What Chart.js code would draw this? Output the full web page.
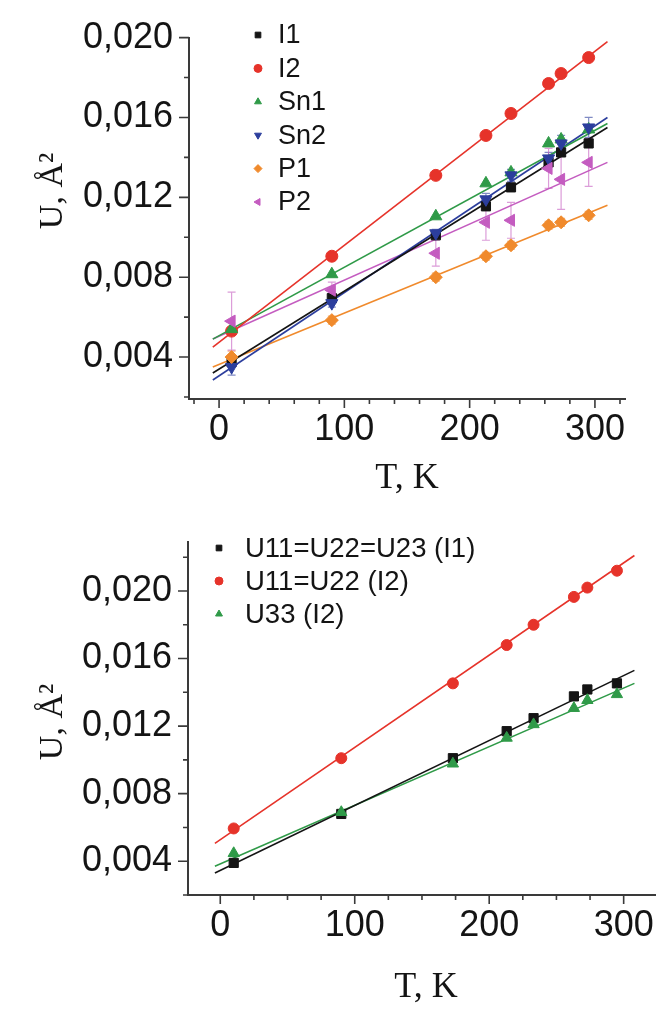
<!DOCTYPE html>
<html>
<head>
<meta charset="utf-8">
<script src="https://cdn.jsdelivr.net/npm/chart.js"></script>
<style>
  html, body { margin: 0; padding: 0; background: #fff; overflow: hidden; }
  #top { position: absolute; left: 0; top: 0; }
  #bottom { position: absolute; left: 0; top: 500px; }
</style>
</head>
<body>
<canvas id="top" width="656" height="500"></canvas>
<canvas id="bottom" width="700" height="511"></canvas>
<script>
// temperatures of the measurements, K
const temps = [10, 90, 173, 213, 233, 263, 273, 295];

// upper panel: mean U per compound
const uI1  = [0.00375, 0.00695, 0.0101, 0.01155, 0.0125, 0.01375, 0.01425, 0.0147];
const uI2  = [0.0053, 0.00905, 0.0131, 0.0151, 0.0162, 0.0177, 0.0182, 0.0190];
const uSn1 = [0.0054, 0.00815, 0.01105, 0.0127, 0.01325, 0.0147, 0.0149, 0.0154];
const uSn2 = [0.0035, 0.0067, 0.0102, 0.0119, 0.0131, 0.01395, 0.0147, 0.0155];
const uP1  = [0.0040, 0.00585, 0.0080, 0.00905, 0.0096, 0.0106, 0.01075, 0.0111];
const uP2  = [0.0058, 0.00735, 0.0092, 0.01075, 0.01085, 0.01345, 0.0129, 0.01375];
const errSn2 = [0.0004, 0.0002, 0.0002, 0.0003, 0.0003, 0.0003, 0.0004, 0.0005];
const errP1  = [0.0003, 0.0002, 0.0002, 0.0002, 0.0002, 0.0002, 0.0002, 0.0002];
const errP2  = [0.00145, 0.0004, 0.00065, 0.0009, 0.0009, 0.001, 0.0015, 0.0012];

// linear fits, value at the two ends
const fitT = [-5, 310];
const fitI1  = [0.0032, 0.0155];
const fitI2  = [0.0045, 0.0198];
const fitSn1 = [0.0049, 0.0157];
const fitSn2 = [0.00285, 0.0160];
const fitP1  = [0.0035, 0.0116];
const fitP2  = [0.0049, 0.01375];

// lower panel: anisotropic components
const uAniI1  = [0.0039, 0.0068, 0.0101, 0.0117, 0.01247, 0.01376, 0.01417, 0.01453];
const uAniI2  = [0.00594, 0.0101, 0.01453, 0.0168, 0.0180, 0.01965, 0.0202, 0.0212];
const u33I2   = [0.00447, 0.0069, 0.00977, 0.0113, 0.0121, 0.01306, 0.01353, 0.01388];
const fitT2 = [-4, 308];
const fitAniI1 = [0.0033, 0.0153];
const fitAniI2 = [0.00506, 0.0221];
const fit33I2  = [0.0037, 0.01453];

const topLabels = ['I1', 'I2', 'Sn1', 'Sn2', 'P1', 'P2'];
const bottomLabels = ['U11=U22=U23 (I1)', 'U11=U22 (I2)', 'U33 (I2)'];

const BLACK = '#141414', RED = '#e6332a', GREEN = '#2f9a48', BLUE = '#2c3e9d',
      ORANGE = '#f08a2c', MAGENTA = '#c45cc0';

Chart.defaults.font.family = '"Liberation Sans", Arial, sans-serif';
Chart.defaults.color = '#141414';

function pts(xs, ys) {
  return xs.map((x, i) => ({x: x, y: ys[i]}));
}

// later series sit on top of earlier ones
function markers(idx, label, ys, color, style, rot, r, errs) {
  return {
    type: 'scatter', label: label, data: pts(temps, ys), showLine: false,
    pointStyle: style, rotation: rot, pointRadius: r, pointHoverRadius: r,
    backgroundColor: color, borderColor: color, borderWidth: 1,
    errors: errs, order: 10 - idx
  };
}

function fitLine(xs, ys, color) {
  return {
    type: 'line', data: pts(xs, ys), showLine: true, pointRadius: 0,
    borderColor: color, borderWidth: 1.6, fill: false, order: 20, isFit: true
  };
}

// outward tick marks, long ones where a label is printed
const tickMarks = {
  id: 'tickMarks',
  afterDraw(chart) {
    const ctx = chart.ctx, a = chart.chartArea;
    const xs = chart.scales.x, ys = chart.scales.y;
    ctx.save();
    ctx.strokeStyle = '#3a3a3a';
    ctx.lineWidth = 1.6;
    ctx.beginPath();
    xs.ticks.forEach(t => {
      const px = xs.getPixelForValue(t.value);
      if (px < a.left - 1 || px > a.right + 1) return;
      const len = t.label ? 9 : 5;
      ctx.moveTo(px, a.bottom); ctx.lineTo(px, a.bottom + len);
    });
    ys.ticks.forEach(t => {
      const py = ys.getPixelForValue(t.value);
      if (py < a.top - 1 || py > a.bottom + 1) return;
      const len = t.label ? 10 : 5;
      ctx.moveTo(a.left, py); ctx.lineTo(a.left - len, py);
    });
    ctx.stroke();
    ctx.restore();
  }
};

// vertical error bars with small caps
const errorBars = {
  id: 'errorBars',
  beforeDatasetsDraw(chart) {
    const ctx = chart.ctx, xs = chart.scales.x, ys = chart.scales.y;
    ctx.save();
    chart.data.datasets.forEach(ds => {
      if (!ds.errors) return;
      ctx.strokeStyle = ds.borderColor;
      ctx.globalAlpha = 0.6;
      ctx.lineWidth = 1.2;
      ds.data.forEach((p, i) => {
        const e = ds.errors[i];
        const px = xs.getPixelForValue(p.x);
        const y1 = ys.getPixelForValue(p.y + e), y2 = ys.getPixelForValue(p.y - e);
        ctx.beginPath();
        ctx.moveTo(px, y1); ctx.lineTo(px, y2);
        ctx.moveTo(px - 4, y1); ctx.lineTo(px + 4, y1);
        ctx.moveTo(px - 4, y2); ctx.lineTo(px + 4, y2);
        ctx.stroke();
      });
    });
    ctx.restore();
  }
};

// legend drawn inside the plot area
const markerLegend = {
  id: 'markerLegend',
  afterDraw(chart, args, o) {
    const ctx = chart.ctx;
    ctx.save();
    ctx.font = o.font;
    ctx.textBaseline = 'middle';
    ctx.textAlign = 'left';
    let row = 0;
    chart.data.datasets.forEach(ds => {
      if (ds.isFit) return;
      const y = o.top + row * o.step;
      ctx.fillStyle = ds.backgroundColor;
      ctx.strokeStyle = ds.borderColor;
      Chart.helpers.drawPoint(ctx, {pointStyle: ds.pointStyle, rotation: ds.rotation || 0,
        radius: o.radius, borderWidth: 1}, o.x, y);
      ctx.fillStyle = '#141414';
      ctx.fillText(ds.label, o.textX, y + 1);
      row++;
    });
    ctx.restore();
  }
};

// rotated y axis title
const sideTitle = {
  id: 'sideTitle',
  afterDraw(chart, args, o) {
    const ctx = chart.ctx;
    ctx.save();
    ctx.translate(o.x, o.y);
    ctx.rotate(-Math.PI / 2);
    ctx.font = '34px "Liberation Serif", "Times New Roman", serif';
    ctx.fillStyle = '#141414';
    ctx.textAlign = 'center';
    ctx.textBaseline = 'alphabetic';
    ctx.fillText(o.text, 0, 0);
    ctx.restore();
  }
};

function isMult(v, step) {
  const q = v / step;
  return Math.abs(q - Math.round(q)) < 1e-6;
}

function makeChart(id, datasets, cfg) {
  return new Chart(document.getElementById(id), {
    data: {datasets: datasets},
    options: {
      responsive: false,
      animation: false,
      events: [],
      layout: {padding: {top: cfg.padTop, right: cfg.padRight, left: 0, bottom: 0}},
      scales: {
        x: {
          type: 'linear', min: cfg.xMin, max: cfg.xMax,
          afterFit: s => { s.height = cfg.xHeight; },
          grid: {display: true, drawOnChartArea: false, drawTicks: false},
          border: {display: true, color: '#3a3a3a', width: 2},
          ticks: {
            stepSize: cfg.xStep, autoSkip: false, maxRotation: 0, includeBounds: false,
            padding: 9, font: {size: 36}, color: '#141414',
            callback: v => isMult(v, 100) ? String(Math.round(v)) : ''
          },
          title: {
            display: true, text: 'T, K', color: '#141414',
            font: {family: '"Liberation Serif", "Times New Roman", serif', size: 36},
            padding: {top: 0, bottom: cfg.titlePad}
          }
        },
        y: {
          type: 'linear', min: cfg.yMin, max: cfg.yMax,
          afterFit: s => { s.width = cfg.yWidth; },
          grid: {display: true, drawOnChartArea: false, drawTicks: false},
          border: {display: true, color: '#3a3a3a', width: 2},
          ticks: {
            stepSize: 0.002, autoSkip: false, includeBounds: false,
            padding: 16, font: {size: 36}, color: '#141414',
            callback: v => isMult(v, 0.004) ? v.toFixed(3).replace('.', ',') : ''
          }
        }
      },
      plugins: {
        legend: {display: false},
        tooltip: {enabled: false},
        markerLegend: cfg.legend,
        sideTitle: {text: 'U, \u00C5\u00B2', x: 62, y: cfg.titleY}
      }
    },
    plugins: [errorBars, tickMarks, markerLegend, sideTitle]
  });
}

makeChart('top', [
  markers(0, topLabels[0], uI1, BLACK, 'rect', 0, 6.5),
  markers(1, topLabels[1], uI2, RED, 'circle', 0, 6),
  markers(2, topLabels[2], uSn1, GREEN, 'triangle', 0, 7),
  markers(3, topLabels[3], uSn2, BLUE, 'triangle', 180, 7, errSn2),
  markers(4, topLabels[4], uP1, ORANGE, 'rectRot', 0, 6.5, errP1),
  markers(5, topLabels[5], uP2, MAGENTA, 'triangle', 270, 7, errP2),
  fitLine(fitT, fitI1, BLACK),
  fitLine(fitT, fitI2, RED),
  fitLine(fitT, fitSn1, GREEN),
  fitLine(fitT, fitSn2, BLUE),
  fitLine(fitT, fitP1, ORANGE),
  fitLine(fitT, fitP2, MAGENTA)
], {
  xMin: -24, xMax: 324, xStep: 20, yMin: 0.0019, yMax: 0.020,
  padTop: 35, padRight: 31, yWidth: 189, xHeight: 101, titlePad: 0, titleY: 191,
  legend: {x: 258, textX: 278, top: 35, step: 33.4, radius: 4, font: '27px "Liberation Sans", Arial, sans-serif'}
});

makeChart('bottom', [
  markers(0, bottomLabels[0], uAniI1, BLACK, 'rect', 0, 6.5),
  markers(1, bottomLabels[1], uAniI2, RED, 'circle', 0, 5.5),
  markers(2, bottomLabels[2], u33I2, GREEN, 'triangle', 0, 6.5),
  fitLine(fitT2, fitAniI1, BLACK),
  fitLine(fitT2, fitAniI2, RED),
  fitLine(fitT2, fit33I2, GREEN)
], {
  xMin: -24, xMax: 330, xStep: 25, yMin: 0.002, yMax: 0.0229,
  padTop: 42, padRight: 36, yWidth: 188, xHeight: 116, titlePad: 2, titleY: 222,
  legend: {x: 219, textX: 245, top: 48, step: 33, radius: 4, font: '27.5px "Liberation Sans", Arial, sans-serif'}
});
</script>
</body>
</html>
